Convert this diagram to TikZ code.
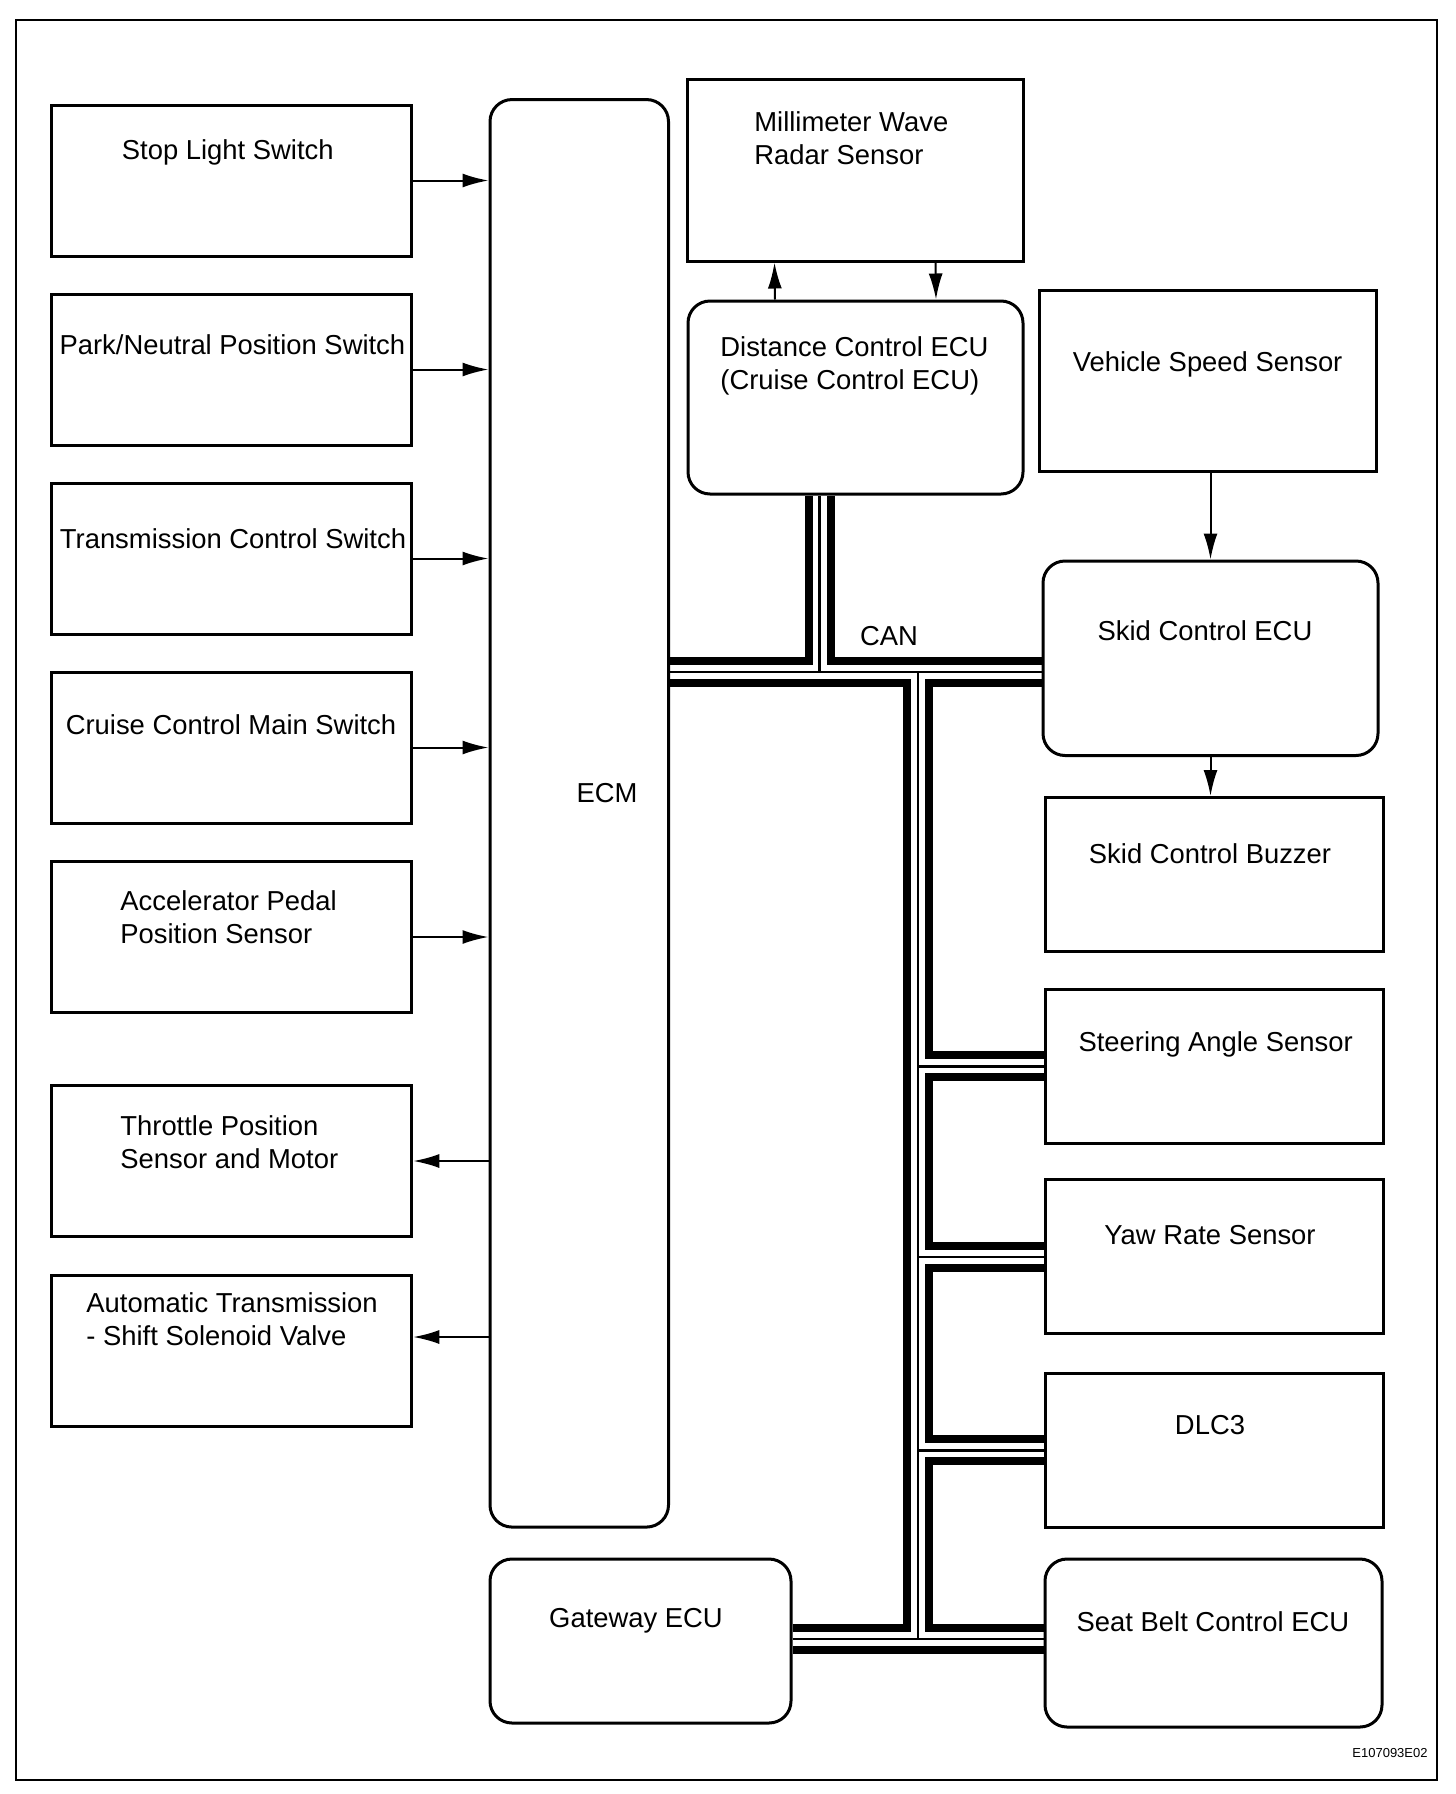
\documentclass[tikz,border=0pt]{standalone}
\usepackage{fontspec}
\setmainfont{Liberation Sans}
\usetikzlibrary{arrows.meta,backgrounds}

\tikzset{
  box/.style={draw, line width=1.5pt, inner sep=0pt},
  ecu/.style={box, rounded corners=11pt},
  lbox/.style={box, minimum width=180pt, minimum height=75.5pt},
  rbox/.style={box, minimum width=169pt, minimum height=77pt},
  txt/.style={font=\fontsize{13.7}{16.5}\selectfont, inner sep=0pt, text height=11.5pt, text depth=2pt},
  txtl/.style={font=\fontsize{13.7}{16.5}\selectfont, inner sep=0pt, align=left, anchor=west},
  sig/.style={line width=1pt, -{Latex[length=13pt,width=7pt]}},
}

\begin{document}
\begin{tikzpicture}[x=0.5pt,y=-0.5pt]
    \useasboundingbox (0,0) rectangle (1456,1794);
    \draw[line width=1.35pt] (16,20) rectangle (1437,1780);

    % inputs / outputs of the ECM
    \node[lbox] (stop) at (231.75,180.5) {};
    \node[txt] (stoplbl) at (227.8,150) {Stop Light Switch};
    \node[lbox] (park) at (231.75,369.5) {};
    \node[txt] (parklbl) at (232.4,344.5) {Park/Neutral Position Switch};
    \node[lbox] (trans) at (231.75,558.5) {};
    \node[txt] (translbl) at (233,539) {Transmission Control Switch};
    \node[lbox] (cruise) at (231.75,747.5) {};
    \node[txt] (cruiselbl) at (231,724.6) {Cruise Control Main Switch};
    \node[lbox] (accel) at (231.75,937) {};
    \node[txtl] (accellbl) at (120,917.5) {Accelerator Pedal\\Position Sensor};
    \node[lbox] (throttle) at (231.75,1161) {};
    \node[txtl] (throttlelbl) at (120,1141.8) {Throttle Position\\Sensor and Motor};
    \node[lbox] (auto) at (231.75,1350.5) {};
    \node[txtl] (autolbl) at (86,1319) {Automatic Transmission\\- Shift Solenoid Valve};

    % ECM
    \node[ecu, minimum width=89.25pt, minimum height=713.75pt] (ecm) at (579.25,813.3) {};
    \node[txt] (ecmlbl) at (607,793) {ECM};

    % radar and distance ECU
    \node[box, minimum width=168pt, minimum height=91pt] (radar) at (855,170) {};
    \node[txtl] (radarlbl) at (754,138) {Millimeter Wave\\Radar Sensor};
    \node[ecu, minimum width=167.5pt, minimum height=96.5pt] (dist) at (855.5,397.5) {};
    \node[txtl] (distlbl) at (720,366) {Distance Control ECU\\(Cruise Control ECU)};

    % right column
    \node[box, minimum width=168.5pt, minimum height=90.8pt] (speed) at (1207.5,381) {};
    \node[txt] (speedlbl) at (1207.6,361.7) {Vehicle Speed Sensor};
    \node[ecu, minimum width=167.5pt, minimum height=97.25pt] (skid) at (1210.5,658.25) {};
    \node[txt] (skidlbl) at (1205,631) {Skid Control ECU};
    \node[rbox] (buzzer) at (1214,874.5) {};
    \node[txt] (buzzerlbl) at (1210,854) {Skid Control Buzzer};
    \node[rbox] (steer) at (1214,1066.25) {};
    \node[txt] (steerlbl) at (1215.6,1041.6) {Steering Angle Sensor};
    \node[rbox] (yaw) at (1214,1256.75) {};
    \node[txt] (yawlbl) at (1210,1235) {Yaw Rate Sensor};
    \node[rbox] (dlc) at (1214,1450.3) {};
    \node[txt] (dlclbl) at (1210,1425) {DLC3};
    \node[ecu, minimum width=168.5pt, minimum height=84pt] (seat) at (1213.5,1643) {};
    \node[txt] (seatlbl) at (1213,1622) {Seat Belt Control ECU};

    % gateway
    \node[ecu, minimum width=150.5pt, minimum height=82pt] (gate) at (640.5,1641) {};
    \node[txt] (gatelbl) at (636,1617.5) {Gateway ECU};

    % signal lines
    \draw[sig] (stop.east) -- (stop.east -| ecm.west);
    \draw[sig] (park.east) -- (park.east -| ecm.west);
    \draw[sig] (trans.east) -- (trans.east -| ecm.west);
    \draw[sig] (cruise.east) -- (cruise.east -| ecm.west);
    \draw[sig] (accel.east) -- (accel.east -| ecm.west);
    \draw[sig] (throttle.east -| ecm.west) -- (throttle.east);
    \draw[sig] ([yshift=6.75pt]auto.east -| ecm.west) -- ([yshift=6.75pt]auto.east);
    \draw[sig] ([xshift=-40.25pt]dist.north) -- ([xshift=-40.25pt]radar.south);
    \draw[sig] ([xshift=40.25pt]radar.south) -- ([xshift=40.25pt]dist.north);
    \draw[sig] (speed.south -| skid.north) -- (skid.north);
    \draw[sig] (skid.south) -- (skid.south |- buzzer.north);

    % CAN bus
    \coordinate (j1) at (819.5,672);
    \coordinate (j2) at (918,672);
    \coordinate (j3) at (918,1639);
    \node[txt] (canlbl) at (889,636) {CAN};
    \begin{pgfonlayer}{background}
    \foreach \w/\c in {15pt/black,7pt/white,1.25pt/black}{
      \draw[line width=\w, \c] (dist.south -| j1) -- (j1);
      \draw[line width=\w, \c] (ecm.east |- j1) -- (skid.west |- j1);
      \draw[line width=\w, \c] (j2) -- (j3);
      \draw[line width=\w, \c] (steer.west -| j2) -- (steer.west);
      \draw[line width=\w, \c] (yaw.west -| j2) -- (yaw.west);
      \draw[line width=\w, \c] (dlc.west -| j2) -- (dlc.west);
      \draw[line width=\w, \c] (gate.east |- j3) -- (seat.west |- j3);
    }
    \end{pgfonlayer}

    \node[font=\fontsize{6.5}{7}\selectfont, inner sep=0pt] (code) at (1390,1753) {E107093E02};
\end{tikzpicture}
\end{document}
